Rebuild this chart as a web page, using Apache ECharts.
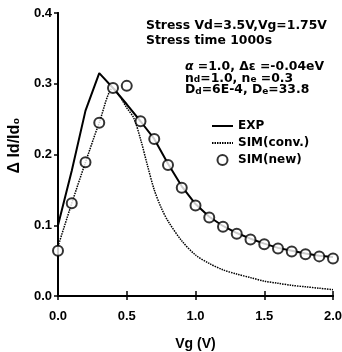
<!DOCTYPE html>
<html>
<head>
<meta charset="utf-8">
<script src="https://cdn.jsdelivr.net/npm/echarts@6/dist/echarts.min.js"></script>
<style>
  html, body { margin: 0; padding: 0; background: #fff; }
  #chart { width: 342px; height: 352px; }
</style>
</head>
<body>
<div id="chart"></div>
<script>
// data
var xTicks = [0, 0.5, 1.0, 1.5, 2.0];
var yTicks = [0, 0.1, 0.2, 0.3, 0.4];

var vgExp = [0, 0.1, 0.2, 0.3, 0.4, 0.5, 0.6, 0.7, 0.8, 0.9, 1.0, 1.1, 1.2, 1.3, 1.4, 1.5, 1.6, 1.7, 1.8, 1.9, 2.0];
var expVals = [0.1, 0.177, 0.262, 0.315, 0.294, 0.271, 0.247, 0.222, 0.187, 0.155, 0.13, 0.112, 0.099, 0.089, 0.081, 0.074, 0.068, 0.064, 0.06, 0.057, 0.055];

var vgConv = [0, 0.1, 0.2, 0.3, 0.4, 0.45, 0.5, 0.55, 0.6, 0.65, 0.7, 0.75, 0.8, 0.9, 1.0, 1.1, 1.2, 1.3, 1.4, 1.5, 1.6, 1.7, 1.8, 1.9, 2.0];
var convVals = [0.07, 0.131, 0.189, 0.245, 0.294, 0.282, 0.266, 0.252, 0.222, 0.185, 0.15, 0.125, 0.106, 0.078, 0.058, 0.046, 0.037, 0.031, 0.026, 0.021, 0.018, 0.015, 0.013, 0.011, 0.009];

var vgNew = [0, 0.1, 0.2, 0.3, 0.4, 0.5, 0.6, 0.7, 0.8, 0.9, 1.0, 1.1, 1.2, 1.3, 1.4, 1.5, 1.6, 1.7, 1.8, 1.9, 2.0];
var newVals = [0.064, 0.131, 0.189, 0.245, 0.294, 0.297, 0.247, 0.222, 0.185, 0.153, 0.128, 0.111, 0.098, 0.088, 0.08, 0.073, 0.067, 0.063, 0.059, 0.056, 0.053];

function pairs(xs, ys) {
  return xs.map(function (x, i) { return [x, ys[i]]; });
}

var font = '"Liberation Sans", Arial, sans-serif';
var wide = '"DejaVu Sans", sans-serif';
var chart = echarts.init(document.getElementById('chart'));

var option = {
  animation: false,
  grid: { left: 58, right: 9, top: 13, bottom: 56, show: false, outerBoundsMode: 'none' },
  legend: {
    orient: 'vertical',
    left: 211,
    top: 120,
    padding: 0,
    itemWidth: 21,
    itemHeight: 10,
    itemGap: 5,
    textStyle: { fontFamily: wide, fontWeight: 'bold', fontSize: 12, color: '#000' },
    data: [
      { name: 'EXP', itemStyle: { opacity: 0 } },
      { name: 'SIM(conv.)', itemStyle: { opacity: 0 } },
      { name: 'SIM(new)' }
    ]
  },
  xAxis: [{
    type: 'value', min: 0, max: 2, interval: 0.5,
    name: 'Vg (V)', nameLocation: 'middle', nameGap: 41,
    nameTextStyle: { fontFamily: font, fontWeight: 'bold', fontSize: 14, color: '#000' },
    axisLine: { lineStyle: { color: '#000', width: 2 } },
    axisTick: { inside: true, length: 5, lineStyle: { color: '#000', width: 1.5 } },
    axisLabel: {
      margin: 14, fontFamily: font, fontWeight: 'bold', fontSize: 13, color: '#000',
      formatter: function (v) { return v.toFixed(1); }
    },
    splitLine: { show: false }
  }, {
    type: 'value', min: 0, max: 2, interval: 0.5, position: 'top',
    axisLine: { lineStyle: { color: '#000', width: 2 } },
    axisTick: { inside: true, length: 4, lineStyle: { color: '#000', width: 1.5 } },
    axisLabel: { show: false },
    splitLine: { show: false }
  }],
  yAxis: [{
    type: 'value', min: 0, max: 0.4, interval: 0.1,
    name: 'Δ Id/Id\u2080', nameLocation: 'middle', nameGap: 34,
    nameTextStyle: {
      fontFamily: font, fontWeight: 'bold', fontSize: 16, color: '#000',
      padding: [0, 0, 0, 18]
    },
    axisLine: { lineStyle: { color: '#000', width: 2 } },
    axisTick: { inside: false, length: 4, lineStyle: { color: '#000', width: 1.5 } },
    axisLabel: {
      margin: 6, fontFamily: font, fontWeight: 'bold', fontSize: 13, color: '#000',
      formatter: function (v) { return v.toFixed(1); }
    },
    splitLine: { show: false }
  }, {
    type: 'value', min: 0, max: 0.4, interval: 0.1, position: 'right',
    axisLine: { lineStyle: { color: '#000', width: 2 } },
    axisTick: { inside: true, length: 4, lineStyle: { color: '#000', width: 1.5 } },
    axisLabel: { show: false },
    splitLine: { show: false }
  }],
  graphic: [{
    type: 'text', left: 146, top: 18,
    style: {
      text: 'Stress Vd=3.5V,Vg=1.75V\nStress time 1000s',
      font: 'bold 12.4px ' + wide, fill: '#000', lineHeight: 15
    }
  }, {
    type: 'text', left: 185, top: 61,
    style: {
      text: '{g|α} =1.0, Δε =-0.04eV\nn{s|d}=1.0, n{s|e} =0.3\nD{s|d}=6E-4, D{s|e}=33.8',
      font: 'bold 12.4px ' + wide, fill: '#000', lineHeight: 11.5,
      rich: {
        g: { font: 'italic bold 12.4px ' + wide, fill: '#000' },
        s: { font: 'bold 9px ' + wide, fill: '#000', verticalAlign: 'bottom', padding: [4, 0, 0, 0] }
      }
    }
  }],
  series: [{
    name: 'EXP', type: 'line', xAxisIndex: 0, yAxisIndex: 0,
    data: pairs(vgExp, expVals),
    symbol: 'none', smooth: false,
    lineStyle: { color: '#000', width: 2 },
    itemStyle: { color: '#000' },
    z: 3
  }, {
    name: 'SIM(conv.)', type: 'line', xAxisIndex: 0, yAxisIndex: 0,
    data: pairs(vgConv, convVals),
    symbol: 'none', smooth: 0.3,
    lineStyle: { color: '#000', width: 1.5, type: [1.5, 1] },
    itemStyle: { color: '#000' },
    z: 2
  }, {
    name: 'SIM(new)', type: 'scatter', xAxisIndex: 0, yAxisIndex: 0,
    data: pairs(vgNew, newVals),
    symbol: 'circle', symbolSize: 10,
    itemStyle: { color: '#fff', borderColor: '#000', borderWidth: 2 },
    z: 4
  }]
};

chart.setOption(option);
</script>
</body>
</html>
